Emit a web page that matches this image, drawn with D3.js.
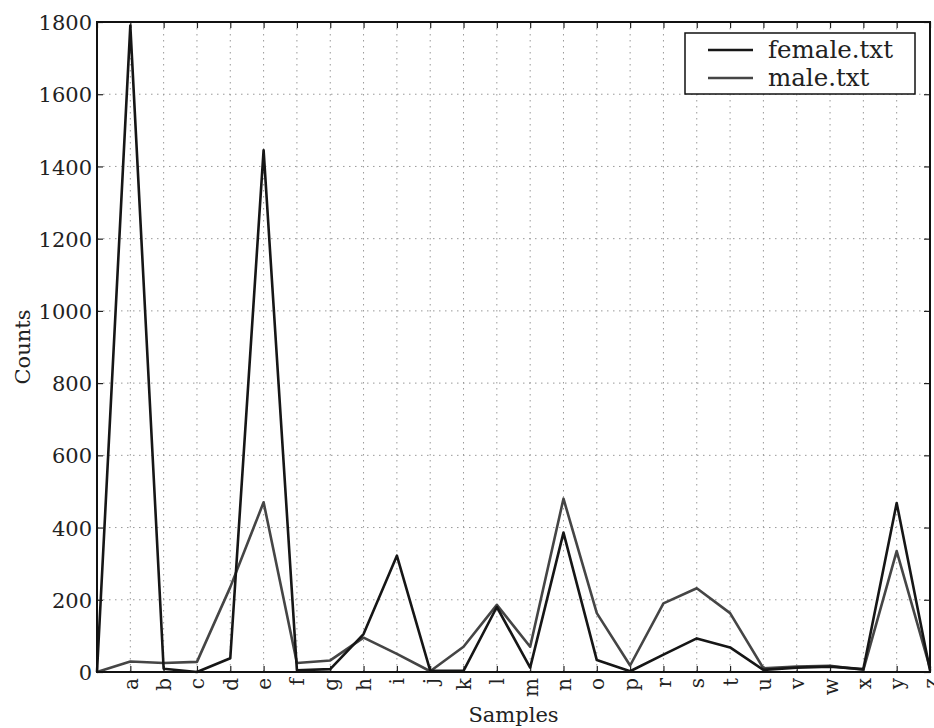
<!DOCTYPE html>
<html>
<head>
<meta charset="utf-8">
<script src="https://cdn.jsdelivr.net/npm/d3@7"></script>
<style>
  html, body { margin: 0; padding: 0; background: #fff; }
  svg { display: block; }
  text { font-family: "DejaVu Serif", "Liberation Serif", serif; fill: #222; }
</style>
</head>
<body>
<div id="chart"></div>
<script>
const categories = ["", "a","b","c","d","e","f","g","h","i","j","k","l","m","n","o","p","r","s","t","u","v","w","x","y","z"];
const femaleCounts = [0, 1790, 9, 0, 38, 1445, 5, 8, 105, 322, 4, 3, 180, 12, 386, 33, 2, 48, 93, 68, 6, 12, 15, 8, 468, 4];
const maleCounts   = [0, 29, 25, 28, 235, 470, 25, 32, 95, 50, 2, 70, 186, 70, 480, 163, 18, 190, 232, 163, 10, 15, 17, 6, 335, 11];
const yTicks = [0, 200, 400, 600, 800, 1000, 1200, 1400, 1600, 1800];
const seriesNames = ["female.txt", "male.txt"];
const seriesColors = ["#161616", "#454545"];

const W = 934, H = 728;
const m = {left: 97, right: 4, top: 22, bottom: 56};
const iw = W - m.left - m.right, ih = H - m.top - m.bottom;

const svg = d3.select("#chart").append("svg").attr("width", W).attr("height", H);
const g = svg.append("g").attr("transform", `translate(${m.left},${m.top})`);

const x = d3.scalePoint().domain(categories).range([0, iw]);
const y = d3.scaleLinear().domain([0, 1800]).range([ih, 0]);

// grid
g.append("g").selectAll("line").data(categories).join("line")
  .attr("x1", d => x(d)).attr("x2", d => x(d)).attr("y1", 0).attr("y2", ih)
  .attr("stroke", "#999").attr("stroke-width", 1).attr("stroke-dasharray", "1.5,4.5");
g.append("g").selectAll("line").data(yTicks).join("line")
  .attr("x1", 0).attr("x2", iw).attr("y1", d => y(d)).attr("y2", d => y(d))
  .attr("stroke", "#999").attr("stroke-width", 1).attr("stroke-dasharray", "1.5,4.5");

// axes
const tickLen = 6;
const xb = g.append("g").attr("transform", `translate(0,${ih})`)
  .call(d3.axisBottom(x).tickSizeInner(-tickLen).tickSizeOuter(0).tickPadding(0));
xb.select(".domain").remove();
xb.selectAll("line").attr("stroke", "#222").attr("stroke-width", 1.2);
xb.selectAll("text")
  .attr("transform", "rotate(-90)")
  .attr("x", -6).attr("y", 0).attr("dy", "0.35em")
  .attr("text-anchor", "end")
  .style("font-size", "20px");

const xt = g.append("g").call(d3.axisTop(x).tickSizeInner(-tickLen).tickSizeOuter(0).tickFormat(""));
xt.select(".domain").remove();
xt.selectAll("line").attr("stroke", "#222").attr("stroke-width", 1.2);

const yl = g.append("g").call(d3.axisLeft(y).tickValues(yTicks).tickFormat(d3.format("d"))
  .tickSizeInner(-tickLen).tickSizeOuter(0).tickPadding(5));
yl.select(".domain").remove();
yl.selectAll("line").attr("stroke", "#222").attr("stroke-width", 1.2);
yl.selectAll("text").style("font-size", "21px").attr("x", -5).attr("dy", "0.36em");

const yr = g.append("g").attr("transform", `translate(${iw},0)`)
  .call(d3.axisRight(y).tickValues(yTicks).tickSizeInner(-tickLen).tickSizeOuter(0).tickFormat(""));
yr.select(".domain").remove();
yr.selectAll("line").attr("stroke", "#222").attr("stroke-width", 1.2);

// lines
const line = d3.line().x((d, i) => x(categories[i])).y(d => y(d));
const series = [femaleCounts, maleCounts];
series.slice().reverse().forEach((s, k) => {
  const idx = series.length - 1 - k;
  g.append("path").datum(s)
    .attr("fill", "none").attr("stroke", seriesColors[idx]).attr("stroke-width", 2.6)
    .attr("stroke-linejoin", "round")
    .attr("d", line);
});

// frame
g.append("rect").attr("x", 0).attr("y", 0).attr("width", iw).attr("height", ih)
  .attr("fill", "none").attr("stroke", "#111").attr("stroke-width", 2);

// axis titles
svg.append("text").attr("x", m.left + iw / 2).attr("y", 722)
  .attr("text-anchor", "middle").style("font-size", "21px").text("Samples");
svg.append("text").attr("transform", `translate(30,${m.top + ih / 2}) rotate(-90)`)
  .attr("text-anchor", "middle").style("font-size", "21px").text("Counts");

// legend
const lg = svg.append("g").attr("transform", "translate(685,33)");
lg.append("rect").attr("x", 0).attr("y", 0).attr("width", 230).attr("height", 61)
  .attr("fill", "#fff").attr("stroke", "#111").attr("stroke-width", 1.5);
seriesNames.forEach((name, i) => {
  const yy = 17 + i * 28;
  lg.append("line").attr("x1", 23).attr("x2", 68).attr("y1", yy).attr("y2", yy)
    .attr("stroke", seriesColors[i]).attr("stroke-width", 2.6);
  lg.append("text").attr("x", 83).attr("y", yy).attr("dy", "0.33em")
    .style("font-size", "24.5px").text(name);
});
</script>
</body>
</html>
